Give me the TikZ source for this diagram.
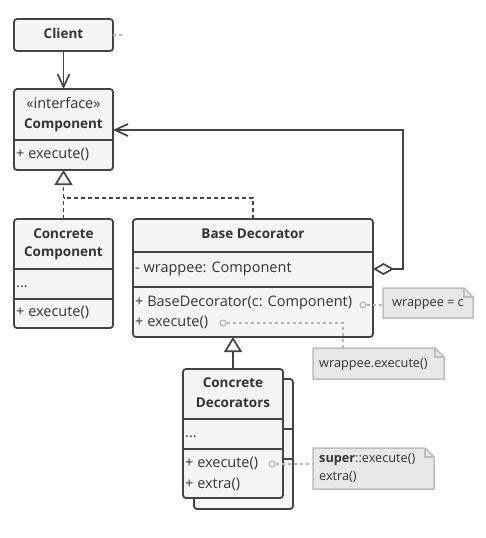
\documentclass[tikz,border=0pt]{standalone}
\usepackage{fontspec}
\setmainfont{Open Sans}
\usetikzlibrary{arrows.meta}
\definecolor{stroke}{HTML}{444444}
\definecolor{boxfill}{HTML}{F5F5F5}
\definecolor{txt}{HTML}{333333}
\definecolor{notefill}{HTML}{E8E8E8}
\definecolor{noteline}{HTML}{BDBDBD}
\definecolor{linkline}{HTML}{B5B5B5}
\newcommand\foldnote[1]{%
  \draw[notestyle] (#1.north west) -- ([xshift=-9pt]#1.north east) -- ([yshift=-9pt]#1.north east) -- (#1.south east) -- (#1.south west) -- cycle;
  \draw[notestyle, fill=none] ([xshift=-9pt]#1.north east) |- ([yshift=-9pt]#1.north east);}
\begin{document}
\begin{tikzpicture}[x=1pt,y=-1pt,
  umlbox/.style={draw=stroke, fill=boxfill, line width=1.8pt, rounded corners=3pt, inner sep=0pt, outer sep=0pt, anchor=north west},
  divline/.style={draw=stroke, line width=1.8pt},
  title/.style={font=\fontsize{13.5}{16}\selectfont\bfseries, text=txt, inner sep=0pt, text height=10pt, text depth=3pt},
  member/.style={font=\fontsize{14.5}{17}\selectfont, text=txt, inner sep=0pt, anchor=west, text height=10pt, text depth=3pt},
  notetext/.style={font=\fontsize{12.7}{15}\selectfont, text=txt, inner sep=0pt, anchor=west, text height=9pt, text depth=3pt},
  notearea/.style={inner sep=0pt, outer sep=0pt, anchor=north west},
  notestyle/.style={draw=noteline, fill=notefill, line width=1.5pt},
  conn/.style={draw=stroke, line width=1.7pt},
  dashconn/.style={conn, dash pattern=on 4pt off 3pt},
  link/.style={draw=linkline, line width=1.3pt, dash pattern=on 3pt off 3pt},
  pinc/.style={circle, draw=linkline, line width=1.1pt, fill=boxfill, minimum size=6pt, inner sep=0pt},
  openv/.style={-{Straight Barb[length=13pt,width=12pt]}},
  opentri/.style={-{Triangle[open,length=15pt,width=18pt]}}
]
\fill[white] (0,0) rectangle (485,538);
\useasboundingbox (0,0) rectangle (485,538);

% Client
\node[umlbox, minimum width=99pt, minimum height=32pt] (client) at (14,19) {};
\node[title] (clientT) at (63.5,35) {Client};
\coordinate (cstub) at (124,35);
\draw[link] (client.east) -- (cstub);

% Component
\node[umlbox, minimum width=99pt, minimum height=81pt] (comp) at (14,89) {};
\draw[divline] (comp.west |- 0,140) -- (comp.east |- 0,140);
\node[member, anchor=center] (compS) at (63.5,105) {«interface»};
\node[title] (compT) at (63.5,125) {Component};
\node[member] (compM) at (16,155) {+ execute()};

% Concrete Component
\node[umlbox, minimum width=99pt, minimum height=109pt] (cc) at (14,219) {};
\draw[divline] (cc.west |- 0,269) -- (cc.east |- 0,269);
\draw[divline] (cc.west |- 0,299) -- (cc.east |- 0,299);
\node[title] (ccT1) at (63.5,235) {Concrete};
\node[title] (ccT2) at (63.5,253) {Component};
\node[member] (ccF) at (16,284) {...};
\node[member] (ccM) at (16,313) {+ execute()};

% Base Decorator
\node[umlbox, minimum width=240pt, minimum height=118pt] (bd) at (133,219) {};
\draw[divline] (bd.west |- 0,252) -- (bd.east |- 0,252);
\draw[divline] (bd.west |- 0,287) -- (bd.east |- 0,287);
\node[title] (bdT) at (253,235) {Base Decorator};
\node[member] (bdF) at (135,269) {- wrappee: Component};
\node[member] (bdM1) at (135,303) {+ BaseDecorator(c: Component)};
\node[member] (bdM2) at (135,323) {+ execute()};

% Concrete Decorators (stacked)
\node[umlbox, minimum width=99pt, minimum height=130pt] (cds) at (194,379) {};
\draw[divline] (cds.west |- 0,429) -- (cds.east |- 0,429);
\draw[divline] (cds.west |- 0,459) -- (cds.east |- 0,459);
\node[umlbox, minimum width=100pt, minimum height=129pt] (cd) at (183,369) {};
\draw[divline] (cd.west |- 0,419) -- (cd.east |- 0,419);
\draw[divline] (cd.west |- 0,449) -- (cd.east |- 0,449);
\node[title] (cdT1) at (233,384) {Concrete};
\node[title] (cdT2) at (233,404) {Decorators};
\node[member] (cdF) at (185,434) {...};
\node[member] (cdM1) at (185,464) {+ execute()};
\node[member] (cdM2) at (185,485) {+ extra()};

% Connectors
\draw[conn, openv] (client.south) -- (comp.north);
\coordinate (j1) at (63.5,198);
\draw[dashconn] (bd.north) |- (j1);
\draw[dashconn, opentri] (cc.north) -- (comp.south);
\draw[conn, opentri] (cd.north) -- (cd.north |- bd.south);
\coordinate (r1) at (403,269);
\coordinate (r2) at (403,130);
\draw[conn, {Diamond[open,length=21pt,width=12pt]}-{Straight Barb[length=13pt,width=12pt]}]
  (bd.east |- r1) -- (r1) -- (r2) -- (comp.east |- r2);

% Notes
\node[notearea, minimum width=90pt, minimum height=30pt] (n1) at (383,288) {};
\foldnote{n1}
\node[notetext] (n1T) at (392,303) {wrappee = c};
\node[notearea, minimum width=131pt, minimum height=31pt] (n2) at (313,348) {};
\foldnote{n2}
\node[notetext] (n2T) at (319,364) {wrappee.execute()};
\node[notearea, minimum width=121pt, minimum height=41pt] (n3) at (313,448) {};
\foldnote{n3}
\node[notetext] (n3T1) at (319,459) {\textbf{super}::execute()};
\node[notetext] (n3T2) at (319,477) {extra()};

% Note links
\node[pinc] (p1) at (363,305) {};
\draw[link] (p1) -- (p1 -| n1.west);
\node[pinc] (p2) at (223,323) {};
\coordinate (k2) at (343,348);
\draw[link] (p2) -| (k2);
\node[pinc] (p3) at (272,464) {};
\draw[link] (p3) -- (p3 -| n3.west);
\end{tikzpicture}
\end{document}
